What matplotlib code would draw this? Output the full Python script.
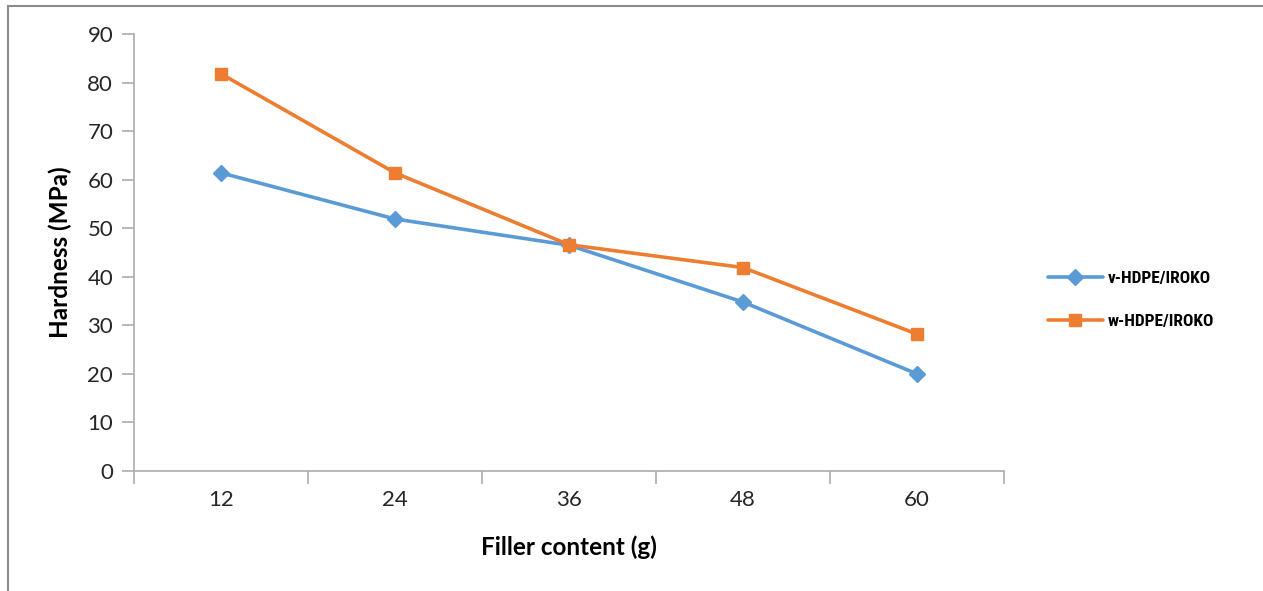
import matplotlib
matplotlib.use("Agg")
import matplotlib.pyplot as plt
from matplotlib.lines import Line2D
from matplotlib import font_manager as fm

categories = ["12", "24", "36", "48", "60"]
v_hdpe = [61.4, 51.9, 46.5, 34.8, 20.0]
w_hdpe = [81.8, 61.4, 46.6, 41.9, 28.2]
series_names = ["v-HDPE/IROKO", "w-HDPE/IROKO"]
yticks = [0, 10, 20, 30, 40, 50, 60, 70, 80, 90]

BLUE = "#5B9BD5"
ORANGE = "#ED7D31"
GRID = "#ADADAD"
TXT = "#262626"

names = {f.name for f in fm.fontManager.ttflist}
cond = [n for n in ["Liberation Sans Narrow", "DejaVu Sans Condensed", "Roboto Condensed", "Roboto"] if n in names]

W, H = 1263, 591
fig = plt.figure(figsize=(W / 100, H / 100), dpi=100)
plt.rcParams['font.family'] = ['Lato', 'DejaVu Sans']

ax = fig.add_axes([134 / W, 1 - 471 / H, (1004 - 134) / W, (471 - 34) / H])
x = list(range(len(categories)))
l1, = ax.plot(x, v_hdpe, color=BLUE, lw=2.6, marker="D", ms=8.5, mec=BLUE, mfc=BLUE, solid_capstyle="round")
l2, = ax.plot(x, w_hdpe, color=ORANGE, lw=2.6, marker="s", ms=9, mec=ORANGE, mfc=ORANGE, solid_capstyle="round")

ax.set_xlim(-0.5, len(categories) - 0.5)
ax.set_ylim(0, 90)
ax.set_yticks(yticks)
ax.set_yticklabels([str(t) for t in yticks], fontsize=16, color=TXT)
ax.set_xticks(x)
ax.set_xticklabels(categories, fontsize=16, color=TXT)
ax.set_xticks([i - 0.5 for i in range(len(categories) + 1)], minor=True)
ax.tick_params(axis='x', which='major', length=0, pad=14)
ax.tick_params(axis='x', which='minor', length=9, color=GRID, width=1.2, direction='out')
ax.tick_params(axis='y', length=9, color=GRID, width=1.2, direction='out', pad=6)

for s in ["top", "right"]:
    ax.spines[s].set_visible(False)
for s in ["left", "bottom"]:
    ax.spines[s].set_color(GRID)
    ax.spines[s].set_linewidth(1.2)

fig.text(569 / W, 1 - 547 / H, "Filler content (g)", ha="center", va="center",
         fontsize=17.5, fontweight="bold", color="black")
fig.text(60 / W, 1 - 252 / H, "Hardness (MPa)", ha="center", va="center", rotation=90,
         fontsize=17.5, fontweight="bold", color="black")

leg = fig.legend([l1, l2], series_names, loc="center left",
                 bbox_to_anchor=(1032 / W, 1 - 300 / H), frameon=False,
                 handlelength=3.2, labelspacing=1.65, handletextpad=0.25,
                 prop={'family': cond + ['DejaVu Sans'], 'weight': 'bold', 'size': 12.5})

# figure border (top and left)
fig.add_artist(Line2D([8 / W, 1.0], [1 - 6 / H, 1 - 6 / H], color="#8C8C8C", lw=1.5, transform=fig.transFigure))
fig.add_artist(Line2D([8 / W, 8 / W], [0, 1 - 6 / H], color="#8C8C8C", lw=1.5, transform=fig.transFigure))

fig.savefig("out.png", dpi=100, facecolor="white")
